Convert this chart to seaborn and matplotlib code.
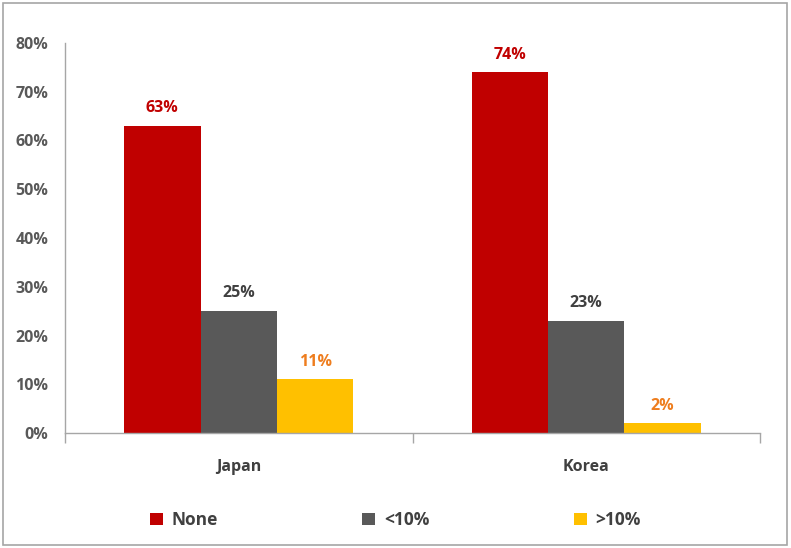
import matplotlib
matplotlib.use("Agg")
import matplotlib.pyplot as plt
import seaborn as sns
import pandas as pd
from matplotlib.patches import Rectangle
from matplotlib.ticker import FixedLocator

countries = ["Japan", "Korea"]
groups = ["None", "<10%", ">10%"]
none_vals = [0.63, 0.74]
under10_vals = [0.25, 0.23]
over10_vals = [0.11, 0.02]
y_ticks = [0.0, 0.1, 0.2, 0.3, 0.4, 0.5, 0.6, 0.7, 0.8]
y_tick_labels = ["0%", "10%", "20%", "30%", "40%", "50%", "60%", "70%", "80%"]

bar_colors = ["#C00000", "#595959", "#FFC000"]
label_colors = ["#C00000", "#404040", "#EE7D1E"]

df = pd.DataFrame({
    "country": countries * 3,
    "group": [g for g in groups for _ in countries],
    "share": none_vals + under10_vals + over10_vals,
})

sns.set_theme(style="white")
plt.rcParams["font.family"] = ["Open Sans", "DejaVu Sans"]

fig = plt.figure(figsize=(7.91, 5.48), dpi=100)
ax = fig.add_axes([65 / 791, 115 / 548, 695 / 791, 390 / 548])

sns.barplot(data=df, x="country", y="share", hue="group", order=countries,
            hue_order=groups, palette=bar_colors, width=0.66, saturation=1,
            edgecolor="none", linewidth=0, ax=ax)

ax.set_xlim(-0.5, 1.5)
ax.set_ylim(0, 0.8)
ax.set_yticks(y_ticks)
ax.set_yticklabels(y_tick_labels)
ax.set_xlabel("")
ax.set_ylabel("")

for s in ["top", "right"]:
    ax.spines[s].set_visible(False)
for s in ["left", "bottom"]:
    ax.spines[s].set_color("#A6A6A6")
    ax.spines[s].set_linewidth(1.0)

ax.tick_params(axis="y", length=0, pad=12, labelsize=11.5, labelcolor="#595959")
ax.tick_params(axis="x", which="major", length=0, pad=19, labelsize=11.5,
               labelcolor="#404040")
for lab in ax.get_yticklabels() + ax.get_xticklabels():
    lab.set_fontweight("bold")

ax.xaxis.set_minor_locator(FixedLocator([-0.5, 0.5, 1.5]))
ax.tick_params(axis="x", which="minor", length=7, width=1.0, color="#A6A6A6",
               direction="out", bottom=True)

for cont, col in zip(ax.containers, label_colors):
    ax.bar_label(cont, labels=[f"{v * 100:.0f}%" for v in cont.datavalues],
                 padding=7, color=col, fontsize=11.5, fontweight="bold")

handles, labels = ax.get_legend_handles_labels()
if ax.get_legend() is not None:
    ax.get_legend().remove()
leg = fig.legend(handles, labels, loc="center", bbox_to_anchor=(0.5, 28 / 548),
                 ncol=3, frameon=False, handlelength=0.75, handleheight=0.75,
                 handletextpad=0.5, columnspacing=8.3,
                 prop={"size": 12.5, "weight": "bold"})
for t in leg.get_texts():
    t.set_color("#404040")

fig.patches.append(Rectangle((3 / 791, 3 / 548), 784 / 791, 542 / 548,
                             transform=fig.transFigure, fill=False,
                             edgecolor="#A6A6A6", linewidth=1.2))

fig.savefig("out.png", dpi=100)
